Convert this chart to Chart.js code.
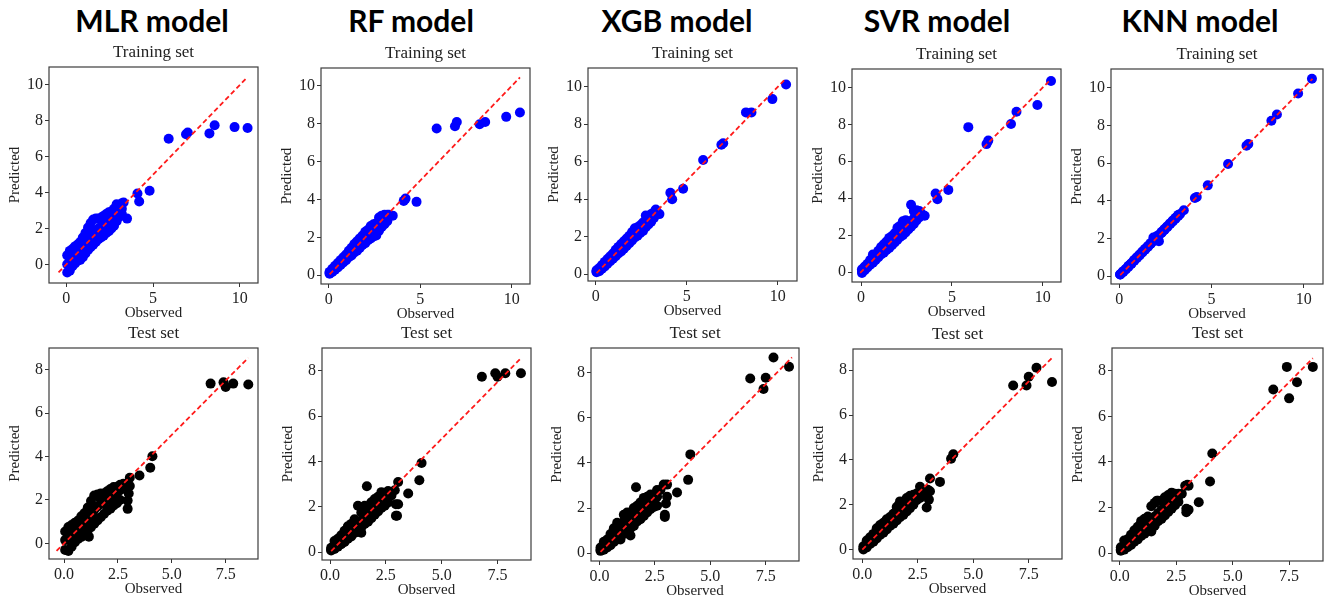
<!DOCTYPE html>
<html lang="en">
<head>
<meta charset="UTF-8">
<title>Observed vs predicted</title>
<script src="https://cdn.jsdelivr.net/npm/chart.js"></script>
<style>
  body { margin: 0; background: #fff; width: 1328px; height: 602px; position: relative; overflow: hidden; }
  .model { position: absolute; top: 2px; font-family: Lato, sans-serif; font-weight: 700; font-size: 30px; line-height: 36px; transform: translateX(-50%); color: #000; white-space: nowrap; }
  canvas { position: absolute; }
</style>
</head>
<body>
<script>
// model names over the columns
const modelNames = ['MLR model', 'RF model', 'XGB model', 'SVR model', 'KNN model'];

// training set: observed values (shared by all models), three samples per level
const trainObserved = [
  0.05, 0.05, 0.05,  0.2, 0.2, 0.2,  0.35, 0.35, 0.35,  0.5, 0.5, 0.5,
  0.65, 0.65, 0.65,  0.8, 0.8, 0.8,  0.95, 0.95, 0.95,  1.1, 1.1, 1.1,
  1.25, 1.25, 1.25,  1.4, 1.4, 1.4,  1.55, 1.55, 1.55,  1.7, 1.7, 1.7,
  1.85, 1.85, 1.85,  2.0, 2.0, 2.0,  2.15, 2.15, 2.15,  2.3, 2.3, 2.3,
  2.45, 2.45, 2.45,  2.6, 2.6, 2.6,  2.75, 2.75, 2.75,  2.9, 2.9, 2.9,
  3.05, 3.05, 3.05,  3.2, 3.2, 3.2,
  3.3, 3.5, 4.1, 4.2, 4.8, 5.9, 6.9, 7.0, 8.25, 8.55, 9.7, 10.45
];
const mlrTrainPred = [
  -0.45, 0.0, 0.5,  -0.35, 0.2, 0.75,  -0.1, 0.35, 0.85,  0.05, 0.5, 1.0,
  0.2, 0.65, 1.1,  0.25, 0.75, 1.25,  0.4, 0.95, 1.5,  0.6, 1.2, 1.75,
  0.8, 1.4, 2.05,  0.95, 1.6, 2.3,  1.1, 1.8, 2.5,  1.25, 1.9, 2.55,
  1.4, 2.0, 2.55,  1.5, 2.1, 2.6,  1.6, 2.2, 2.7,  1.75, 2.3, 2.8,
  1.85, 2.4, 2.9,  2.0, 2.5, 2.95,  2.15, 2.65, 3.1,  2.4, 2.85, 3.35,
  2.65, 3.0, 3.25,  2.8, 3.1, 3.4,
  3.45, 2.55, 3.95, 3.5, 4.1, 7.0, 7.25, 7.35, 7.3, 7.75, 7.65, 7.6
];
const rfTrainPred = [
  0.08, 0.12, 0.18,  0.18, 0.25, 0.35,  0.3, 0.38, 0.5,  0.42, 0.52, 0.65,
  0.55, 0.65, 0.8,  0.68, 0.8, 0.95,  0.8, 0.95, 1.1,  0.95, 1.1, 1.3,
  1.05, 1.25, 1.45,  1.2, 1.4, 1.65,  1.3, 1.55, 1.8,  1.45, 1.7, 1.95,
  1.6, 1.85, 2.1,  1.7, 1.95, 2.3,  1.85, 2.1, 2.4,  1.95, 2.25, 2.6,
  2.05, 2.4, 2.7,  2.1, 2.5, 2.75,  2.35, 2.7, 3.05,  2.55, 2.85, 3.15,
  2.7, 2.95, 3.2,  2.85, 3.05, 3.2,
  3.2, 3.15, 3.93, 4.05, 3.88, 7.75, 7.87, 8.1, 7.98, 8.1, 8.37, 8.6
];
const xgbTrainPred = [
  0.1, 0.15, 0.2,  0.15, 0.22, 0.32,  0.28, 0.38, 0.48,  0.4, 0.5, 0.65,
  0.55, 0.65, 0.8,  0.68, 0.8, 0.95,  0.82, 0.95, 1.1,  0.95, 1.1, 1.3,
  1.1, 1.25, 1.45,  1.2, 1.4, 1.6,  1.35, 1.55, 1.75,  1.5, 1.7, 1.9,
  1.65, 1.85, 2.05,  1.8, 2.0, 2.25,  1.95, 2.15, 2.45,  2.05, 2.3, 2.5,
  2.2, 2.45, 2.6,  2.3, 2.55, 2.75,  2.5, 2.7, 3.12,  2.65, 2.85, 3.1,
  2.8, 3.0, 3.2,  3.0, 3.15, 3.3,
  3.45, 3.2, 4.34, 3.99, 4.55, 6.09, 6.9, 6.98, 8.63, 8.63, 9.34, 10.12
];
const svrTrainPred = [
  -0.05, 0.05, 0.15,  0.1, 0.2, 0.3,  0.25, 0.35, 0.45,  0.4, 0.5, 0.65,
  0.5, 0.65, 0.95,  0.65, 0.8, 0.95,  0.8, 0.95, 1.15,  0.95, 1.1, 1.35,
  1.05, 1.25, 1.5,  1.2, 1.4, 1.65,  1.3, 1.55, 1.85,  1.45, 1.7, 1.95,
  1.6, 1.85, 2.1,  1.75, 2.0, 2.4,  1.9, 2.15, 2.5,  2.0, 2.3, 2.75,
  2.15, 2.45, 2.8,  2.3, 2.55, 2.75,  2.45, 2.7, 3.65,  2.6, 2.9, 3.3,
  2.8, 3.0, 3.35,  2.95, 3.15, 3.3,
  3.2, 3.05, 4.25, 3.95, 4.45, 7.85, 6.93, 7.12, 8.02, 8.68, 9.05, 10.35
];
const knnTrainPred = [
  0.08, 0.08, 0.1,  0.2, 0.22, 0.25,  0.35, 0.36, 0.38,  0.5, 0.52, 0.55,
  0.65, 0.66, 0.68,  0.8, 0.82, 0.85,  0.95, 0.97, 1.0,  1.1, 1.12, 1.15,
  1.25, 1.27, 1.3,  1.4, 1.42, 1.45,  1.55, 1.57, 1.6,  1.7, 1.72, 1.75,
  1.85, 1.9, 2.05,  1.9, 2.05, 2.1,  1.85, 2.15, 2.2,  2.3, 2.32, 2.35,
  2.45, 2.47, 2.5,  2.6, 2.62, 2.65,  2.75, 2.77, 2.8,  2.9, 2.92, 2.95,
  3.05, 3.07, 3.1,  3.2, 3.22, 3.25,
  3.3, 3.5, 4.15, 4.2, 4.82, 5.95, 6.92, 7.02, 8.25, 8.58, 9.7, 10.48
];

// test set
const testObserved = [
  0.05, 0.05, 0.05,  0.2, 0.2, 0.2,  0.35, 0.35, 0.35,  0.5, 0.5, 0.5,
  0.65, 0.65, 0.65,  0.8, 0.8, 0.8,  0.95, 0.95, 0.95,  1.1, 1.1, 1.1,
  1.25, 1.25, 1.25,  1.4, 1.4, 1.4,  1.55, 1.55, 1.55,  1.7, 1.7, 1.7,
  1.85, 1.85, 1.85,  2.0, 2.0, 2.0,  2.15, 2.15, 2.15,  2.3, 2.3, 2.3,
  2.45, 2.45, 2.45,  2.6, 2.6, 2.6,
  2.75, 1.15, 1.65, 1.4,
  2.9, 2.95, 2.95, 3.0, 3.05, 3.05, 3.5,
  4.0, 4.1, 6.8, 7.4, 7.5, 7.85, 8.55
];
const mlrTestPred = [
  -0.3, 0.15, 0.55,  -0.35, 0.25, 0.75,  -0.15, 0.35, 0.85,  0.05, 0.5, 0.95,
  0.2, 0.65, 1.05,  0.3, 0.8, 1.25,  0.45, 0.95, 1.4,  0.6, 1.15, 1.65,
  0.75, 1.35, 1.95,  0.9, 1.55, 2.2,  1.05, 1.7, 2.25,  1.2, 1.8, 2.3,
  1.35, 1.9, 2.3,  1.5, 2.0, 2.4,  1.6, 2.1, 2.5,  1.75, 2.2, 2.6,
  1.85, 2.3, 2.6,  2.0, 2.45, 2.7,
  2.75, 0.31, 2.1, 1.2,
  2.6, 1.97, 1.59, 2.3, 3.02, 2.64, 3.13,
  3.48, 4.01, 7.36, 7.42, 7.2, 7.36, 7.32
];
const rfTestPred = [
  0.08, 0.12, 0.2,  0.15, 0.25, 0.5,  0.25, 0.4, 0.6,  0.35, 0.5, 0.75,
  0.45, 0.65, 0.95,  0.6, 0.8, 1.15,  0.7, 0.95, 1.25,  0.85, 1.1, 1.45,
  1.0, 1.25, 2.05,  1.1, 1.4, 1.75,  1.25, 1.55, 2.05,  1.35, 1.7, 2.0,
  1.5, 1.85, 2.2,  1.65, 2.0, 2.35,  1.8, 2.1, 2.45,  1.95, 2.25, 2.65,
  2.05, 2.35, 2.6,  2.2, 2.45, 2.7,
  2.5, 1.3, 2.91, 0.86,
  2.73, 1.61, 2.12, 1.61, 3.1, 2.12, 2.59,
  3.17, 3.93, 7.73, 7.89, 7.73, 7.89, 7.89
];
const xgbTestPred = [
  0.1, 0.15, 0.25,  0.15, 0.3, 0.5,  0.25, 0.4, 0.6,  0.35, 0.55, 0.85,
  0.5, 0.7, 1.1,  0.6, 0.85, 1.35,  0.6, 0.95, 1.3,  0.85, 1.15, 1.7,
  1.0, 1.3, 1.8,  1.1, 1.45, 1.8,  1.2, 1.6, 2.0,  1.4, 1.75, 2.1,
  1.5, 1.9, 2.25,  1.65, 2.0, 2.45,  1.8, 2.15, 2.5,  1.95, 2.3, 2.6,
  2.05, 2.4, 2.6,  2.1, 2.5, 2.8,
  2.8, 1.5, 2.92, 0.78,
  3.04, 1.7, 1.6, 2.2, 3.04, 2.5, 2.69,
  3.25, 4.38, 7.75, 7.28, 7.78, 8.68, 8.27
];
const svrTestPred = [
  0.0, 0.05, 0.15,  0.1, 0.2, 0.4,  0.25, 0.35, 0.55,  0.35, 0.5, 0.7,
  0.5, 0.65, 0.95,  0.65, 0.8, 1.1,  0.75, 0.95, 1.2,  0.9, 1.1, 1.35,
  1.05, 1.25, 1.45,  1.15, 1.4, 1.6,  1.3, 1.55, 1.9,  1.45, 1.7, 2.15,
  1.55, 1.85, 2.1,  1.7, 2.0, 2.3,  1.85, 2.1, 2.4,  2.0, 2.25, 2.45,
  2.2, 2.4, 2.5,  2.3, 2.5, 2.8,
  2.5, 1.2, 2.0, 1.3,
  1.88, 2.52, 2.67, 2.23, 3.17, 2.6, 3.02,
  4.05, 4.25, 7.32, 7.32, 7.71, 8.11, 7.48
];
const knnTestPred = [
  0.1, 0.15, 0.25,  0.15, 0.3, 0.55,  0.25, 0.4, 0.6,  0.35, 0.5, 0.8,
  0.5, 0.7, 1.0,  0.6, 0.85, 1.15,  0.75, 1.0, 1.4,  0.85, 1.15, 1.5,
  1.0, 1.3, 1.6,  1.0, 1.45, 2.05,  1.2, 1.6, 2.2,  1.4, 1.75, 2.3,
  1.5, 1.9, 2.3,  1.65, 2.0, 2.45,  1.8, 2.15, 2.55,  1.95, 2.3, 2.65,
  2.1, 2.4, 2.6,  2.25, 2.5, 2.6,
  2.6, 1.35, 2.3, 0.95,
  2.95, 1.79, 1.94, 3.0, 2.95, 1.9, 2.23,
  3.14, 4.37, 7.18, 8.17, 6.79, 7.5, 8.17
];

// tick values
const trainTicksX = [0, 5, 10];
const trainTicksY = [0, 2, 4, 6, 8, 10];
const testTicksX = [0, 2.5, 5, 7.5];
const testTicksY = [0, 2, 4, 6, 8];

// axis limits per panel [xmin, xmax, ymin, ymax]
const trainLimits = [
  [-1.0, 11.05, -1.04, 11.0],
  [-0.42, 11.0, -0.46, 10.95],
  [-0.42, 11.05, -0.37, 11.0],
  [-0.5, 11.0, -0.54, 11.0],
  [-0.45, 11.05, -0.42, 11.0]
];
const testLimits = [
  [-0.7, 9.0, -0.72, 9.0],
  [-0.36, 9.0, -0.34, 9.0],
  [-0.38, 9.0, -0.35, 9.1],
  [-0.42, 9.0, -0.42, 8.95],
  [-0.34, 9.0, -0.35, 9.0]
];

// plot area boxes [left, top, width, height]
const trainBoxes = [[49, 67, 210, 216], [321, 68, 210, 216], [588, 68, 210, 213], [852, 69, 210, 213], [1111, 69, 213, 215]];
const testBoxes = [[49, 348, 210, 211], [322, 348, 210, 212], [591, 348, 209, 213], [853, 349, 210, 210], [1112, 348, 212, 213]];
const titleCenters = [152, 411, 677, 937, 1200];

const PAD_L = 45, PAD_R = 4, PAD_T = 27, PAD_B = 40;
const serif = 'Liberation Serif, Times New Roman, serif';

const framePlugin = {
  id: 'frame',
  afterDraw(chart) {
    const { ctx, chartArea: a } = chart;
    ctx.save();
    ctx.strokeStyle = '#3c3c3c';
    ctx.lineWidth = 1.2;
    ctx.strokeRect(a.left, a.top, a.right - a.left, a.bottom - a.top);
    ctx.restore();
  }
};

function axis(min, max, ticks, title, fmt, horizontal) {
  return {
    type: 'linear',
    min: min,
    max: max,
    afterBuildTicks: s => { s.ticks = ticks.map(v => ({ value: v })); },
    afterFit: s => { if (horizontal) s.height = PAD_B; else s.width = PAD_L; },
    grid: { drawOnChartArea: false, drawTicks: true, tickLength: 4, color: '#333' },
    border: { display: false },
    ticks: {
      font: { family: serif, size: 16 },
      color: '#222',
      padding: 2,
      maxRotation: 0,
      autoSkip: false,
      callback: fmt
    },
    title: {
      display: true,
      text: title,
      font: { family: serif, size: 15 },
      color: '#222',
      padding: horizontal ? { top: 0, bottom: 1 } : { top: 2, bottom: 0 }
    }
  };
}

function drawPanel(box, lim, observed, predicted, color, title, ticksX, ticksY, fmtX) {
  const canvas = document.createElement('canvas');
  canvas.width = PAD_L + box[2] + PAD_R;
  canvas.height = PAD_T + box[3] + PAD_B;
  canvas.style.left = (box[0] - PAD_L) + 'px';
  canvas.style.top = (box[1] - PAD_T) + 'px';
  document.body.appendChild(canvas);

  const lo = Math.min(...observed, ...predicted);
  const hi = Math.max(...observed, ...predicted);

  new Chart(canvas, {
    type: 'scatter',
    data: {
      datasets: [
        {
          data: [{ x: lo, y: lo }, { x: hi, y: hi }],
          showLine: true,
          pointRadius: 0,
          borderColor: '#ff1a1a',
          borderWidth: 1.8,
          borderDash: [5, 3],
          order: 0
        },
        {
          data: observed.map((x, i) => ({ x: x, y: predicted[i] })),
          pointRadius: 5,
          pointBackgroundColor: color,
          pointBorderWidth: 0,
          order: 1
        }
      ]
    },
    options: {
      responsive: false,
      animation: false,
      events: [],
      layout: { padding: { left: 0, right: PAD_R, top: 0, bottom: 0 } },
      plugins: {
        legend: { display: false },
        tooltip: { enabled: false },
        title: {
          display: true,
          fullSize: false,
          text: title,
          color: '#222',
          font: { family: serif, size: 17, weight: 'normal', lineHeight: 1.2 },
          padding: { top: 2, bottom: 4.6 }
        }
      },
      scales: {
        x: axis(lim[0], lim[1], ticksX, 'Observed', fmtX, true),
        y: axis(lim[2], lim[3], ticksY, 'Predicted', v => String(v), false)
      }
    },
    plugins: [framePlugin]
  });
}

modelNames.forEach((name, i) => {
  const div = document.createElement('div');
  div.className = 'model';
  div.style.left = titleCenters[i] + 'px';
  div.textContent = name;
  document.body.appendChild(div);
});

const trainPreds = [mlrTrainPred, rfTrainPred, xgbTrainPred, svrTrainPred, knnTrainPred];
const testPreds = [mlrTestPred, rfTestPred, xgbTestPred, svrTestPred, knnTestPred];

trainPreds.forEach((pred, i) => {
  drawPanel(trainBoxes[i], trainLimits[i], trainObserved, pred, '#0000ff', 'Training set',
    trainTicksX, trainTicksY, v => String(v));
});
testPreds.forEach((pred, i) => {
  drawPanel(testBoxes[i], testLimits[i], testObserved, pred, '#000000', 'Test set',
    testTicksX, testTicksY, v => v.toFixed(1));
});
</script>
</body>
</html>
